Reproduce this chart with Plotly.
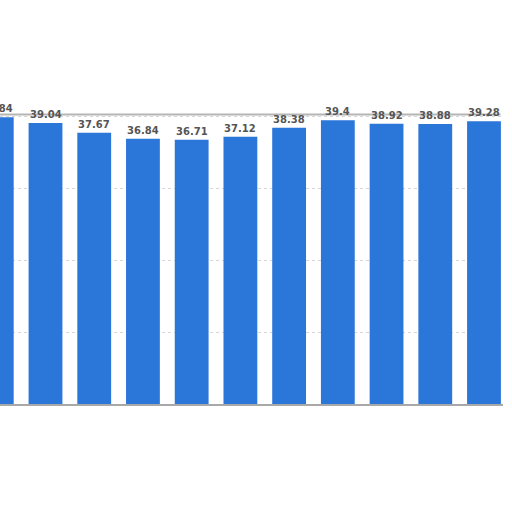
import plotly.graph_objects as go

# Values (first bar is cut off at the left edge)
categories = list(range(11))
values = [39.84, 39.04, 37.67, 36.84, 36.71, 37.12, 38.38, 39.4, 38.92, 38.88, 39.28]
labels = ["39.84", "39.04", "37.67", "36.84", "36.71", "37.12",
          "38.38", "39.4", "38.92", "38.88", "39.28"]

BAR_BLUE = "#2a76d9"
LABEL_FONT = dict(family="DejaVu Sans", size=10, color="#555555", weight="bold")
X_RANGE = [0.066, 10.39]

fig = go.Figure()
fig.add_trace(go.Bar(
    x=categories,
    y=values,
    marker=dict(color=BAR_BLUE, line=dict(width=0)),
    cliponaxis=False,
    hoverinfo="skip",
))

# value labels: plotly drops data-anchored text whose x is outside the range,
# so place them in paper coords derived from the x range (first bar is cut off)
span = X_RANGE[1] - X_RANGE[0]
for cat, val, lab in zip(categories, values, labels):
    fig.add_annotation(x=(cat - X_RANGE[0]) / span, xref="paper", y=val, yref="y",
                       text=lab, showarrow=False,
                       xanchor="center", yanchor="bottom", yshift=1,
                       font=LABEL_FONT)

# hand-torn looking top edge, roughly along the 40 gridline
fig.add_shape(type="line", xref="paper", yref="y", x0=0, x1=0.995, y0=40.2, y1=40.2,
              line=dict(color="#b5b5b5", width=2), layer="below")

fig.update_layout(
    width=512, height=512,
    margin=dict(l=0, r=9, t=80, b=108),
    paper_bgcolor="white",
    plot_bgcolor="white",
    bargap=0.306,
    showlegend=False,
    xaxis=dict(
        range=X_RANGE,
        showticklabels=False,
        showgrid=False,
        zeroline=False,
        showline=True,
        linecolor="#a8a8a8",
        linewidth=2,
        ticks="",
    ),
    yaxis=dict(
        range=[0, 45],
        dtick=10,
        showticklabels=False,
        showgrid=True,
        gridcolor="#d6d6d6",
        griddash="dot",
        gridwidth=1,
        zeroline=False,
        ticks="",
    ),
)

# the page's default body margin would push the chart 8px off
fig.write_html("out.html", config={"displayModeBar": False},
               post_script="document.body.style.margin='0';")
